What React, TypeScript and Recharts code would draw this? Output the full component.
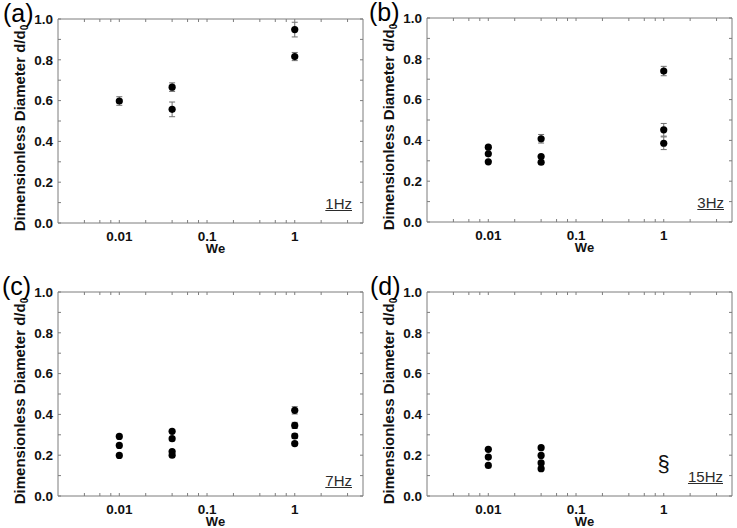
import React from "react";
import { ScatterChart, Scatter, XAxis, YAxis, ErrorBar, Label } from "recharts";

// Axes ticks
const weTicks = [0.01, 0.1, 1];
const weMinorTicks = [0.004, 0.006, 0.008, 0.01, 0.02, 0.04, 0.06, 0.08, 0.1, 0.2, 0.4, 0.6, 0.8, 1, 2, 4];
const dTicks = [0, 0.2, 0.4, 0.6, 0.8, 1.0];
const dMinorTicks = [0, 0.1, 0.2, 0.3, 0.4, 0.5, 0.6, 0.7, 0.8, 0.9, 1.0];

// (a) 1Hz
const weA = [0.01, 0.04, 0.04, 1, 1];
const dA = [0.598, 0.666, 0.557, 0.948, 0.816];
const errA = [0.021, 0.021, 0.036, 0.036, 0.02];

// (b) 3Hz
const weB = [0.01, 0.01, 0.01, 0.04, 0.04, 0.04, 1, 1, 1];
const dB = [0.367, 0.334, 0.295, 0.408, 0.321, 0.293, 0.74, 0.452, 0.386];
const errB = [0, 0, 0, 0.021, 0, 0, 0.023, 0.031, 0.031];

// (c) 7Hz
const weC = [0.01, 0.01, 0.01, 0.04, 0.04, 0.04, 0.04, 1, 1, 1, 1];
const dC = [0.292, 0.248, 0.199, 0.317, 0.281, 0.218, 0.2, 0.42, 0.346, 0.294, 0.257];
const errC = [0, 0, 0, 0, 0, 0, 0, 0.018, 0.015, 0.012, 0.01];

// (d) 15Hz
const weD = [0.01, 0.01, 0.01, 0.04, 0.04, 0.04, 0.04];
const dD = [0.229, 0.191, 0.15, 0.237, 0.199, 0.162, 0.134];
const errD = [0, 0, 0, 0, 0, 0, 0];
const sectionWe = [1];
const sectionD = [0.16];

const FRAME = "#7d7d7d";
const FONT = "'Liberation Sans', Arial, sans-serif";
const CHART_W = 368;
const CHART_H = 246;
const Y_AXIS_W = 58;
const X_AXIS_H = 32;
const MARGIN = { top: 10, right: 5, bottom: 0, left: 0 };
const PLOT_W = CHART_W - Y_AXIS_W - MARGIN.right;
const PLOT_H = CHART_H - X_AXIS_H - MARGIN.top;
const X_GAP = 8;
const Y_GAP = 5;
const TICK = 3;

const renderDot = (p: any) => <circle cx={p.cx} cy={p.cy} r={3.6} fill="#000" />;

const renderSection = (p: any) => (
  <text x={p.cx} y={p.cy} textAnchor="middle" dominantBaseline="central" fontSize={22} fontFamily={FONT} fill="#111">
    §
  </text>
);

// inward ticks on bottom + top, label only for decades
const XTick = (p: any) => {
  const v = p.payload.value;
  const axisY = p.y - X_GAP;
  return (
    <g>
      <line x1={p.x} x2={p.x} y1={axisY} y2={axisY - TICK} stroke={FRAME} />
      <line x1={p.x} x2={p.x} y1={axisY - PLOT_H} y2={axisY - PLOT_H + TICK} stroke={FRAME} />
      {weTicks.includes(v) && (
        <text x={p.x} y={p.y} dy="0.72em" textAnchor="middle" fontFamily={FONT} fontSize={13.5} fontWeight={700} fill="#111">
          {String(v)}
        </text>
      )}
    </g>
  );
};

// inward ticks on left + right
const YTick = (p: any) => {
  const v = p.payload.value;
  const axisX = p.x + Y_GAP;
  return (
    <g>
      <line x1={axisX} x2={axisX + TICK} y1={p.y} y2={p.y} stroke={FRAME} />
      <line x1={axisX + PLOT_W} x2={axisX + PLOT_W - TICK} y1={p.y} y2={p.y} stroke={FRAME} />
      {dTicks.includes(v) && (
        <text x={p.x} y={p.y} dy="0.36em" textAnchor="end" fontFamily={FONT} fontSize={13.5} fontWeight={700} fill="#111">
          {v.toFixed(1)}
        </text>
      )}
    </g>
  );
};

const YLabel = (props: any) => {
  const vb = props.viewBox;
  const x = vb.x + 25;
  const y = vb.y + vb.height / 2 + 7;
  return (
    <text x={x} y={y} transform={`rotate(-90 ${x} ${y})`} textAnchor="middle" fontFamily={FONT} fontSize={15} fontWeight={700} fill="#111">
      Dimensionless Diameter d/d<tspan fontSize={10} dy={3}>0</tspan>
    </text>
  );
};

const WeLabel = (props: any) => {
  const vb = props.viewBox;
  return (
    <text x={vb.x + vb.width / 2 + 5} y={vb.y + 30} textAnchor="middle" fontFamily={FONT} fontSize={13} fontWeight={700} fill="#111">
      We
    </text>
  );
};

type PanelProps = {
  we: number[];
  d: number[];
  err: number[];
  left: number;
  top: number;
  section?: boolean;
};

function Panel({ we, d, err, left, top, section }: PanelProps) {
  const data = we.map((w, i) => ({ we: w, d: d[i], err: err[i] }));
  const sectionData = sectionWe.map((w, i) => ({ we: w, d: sectionD[i] }));
  return (
    <div style={{ position: "absolute", left, top, width: CHART_W, height: CHART_H }}>
      <ScatterChart width={CHART_W} height={CHART_H} margin={MARGIN}>
        <XAxis
          xAxisId="we"
          type="number"
          dataKey="we"
          scale="log"
          domain={[0.002, 6]}
          allowDataOverflow
          ticks={weMinorTicks}
          interval={0}
          tickLine={false}
          tickSize={0}
          tickMargin={X_GAP}
          height={X_AXIS_H}
          axisLine={{ stroke: FRAME }}
          tick={XTick}
          label={<Label content={WeLabel} />}
        />
        <XAxis
          xAxisId="weTop"
          orientation="top"
          type="number"
          scale="log"
          domain={[0.002, 6]}
          allowDataOverflow
          mirror
          tick={false}
          tickLine={false}
          axisLine={{ stroke: FRAME }}
        />
        <YAxis
          yAxisId="d"
          type="number"
          dataKey="d"
          domain={[0, 1]}
          allowDataOverflow
          ticks={dMinorTicks}
          interval={0}
          tickLine={false}
          tickSize={0}
          tickMargin={Y_GAP}
          width={Y_AXIS_W}
          axisLine={{ stroke: FRAME }}
          tick={YTick}
          label={<Label content={YLabel} />}
        />
        <YAxis
          yAxisId="dRight"
          orientation="right"
          type="number"
          domain={[0, 1]}
          allowDataOverflow
          mirror
          tick={false}
          tickLine={false}
          axisLine={{ stroke: FRAME }}
        />
        <Scatter data={data} xAxisId="we" yAxisId="d" shape={renderDot} isAnimationActive={false}>
          <ErrorBar dataKey="err" direction="y" width={3} stroke="#707070" strokeWidth={1} isAnimationActive={false} />
        </Scatter>
        {section && (
          <Scatter data={sectionData} xAxisId="we" yAxisId="d" shape={renderSection} isAnimationActive={false} />
        )}
      </ScatterChart>
    </div>
  );
}

const tagStyle: React.CSSProperties = {
  position: "absolute",
  fontFamily: FONT,
  fontSize: 25,
  lineHeight: 1,
  color: "#000",
};

const freqStyle: React.CSSProperties = {
  position: "absolute",
  fontFamily: FONT,
  fontSize: 15,
  lineHeight: 1,
  color: "#2b2b2b",
  textDecoration: "underline",
};

export default function App() {
  return (
    <div
      style={{
        position: "absolute",
        left: 0,
        top: 0,
        width: 737,
        height: 528,
        overflow: "hidden",
        background: "#fff",
      }}
    >
      <Panel we={weA} d={dA} err={errA} left={0} top={9} />
      <Panel we={weB} d={dB} err={errB} left={369} top={8} />
      <Panel we={weC} d={dC} err={errC} left={0} top={282} />
      <Panel we={weD} d={dD} err={errD} left={369} top={282} section />

      <div style={{ ...tagStyle, left: 3, top: 1 }}>(a)</div>
      <div style={{ ...tagStyle, left: 369, top: 0 }}>(b)</div>
      <div style={{ ...tagStyle, left: 2, top: 274 }}>(c)</div>
      <div style={{ ...tagStyle, left: 370, top: 274 }}>(d)</div>

      <div style={{ ...freqStyle, right: 385, top: 196 }}>1Hz</div>
      <div style={{ ...freqStyle, right: 13, top: 195 }}>3Hz</div>
      <div style={{ ...freqStyle, right: 385, top: 473 }}>7Hz</div>
      <div style={{ ...freqStyle, right: 14, top: 469 }}>15Hz</div>
    </div>
  );
}
